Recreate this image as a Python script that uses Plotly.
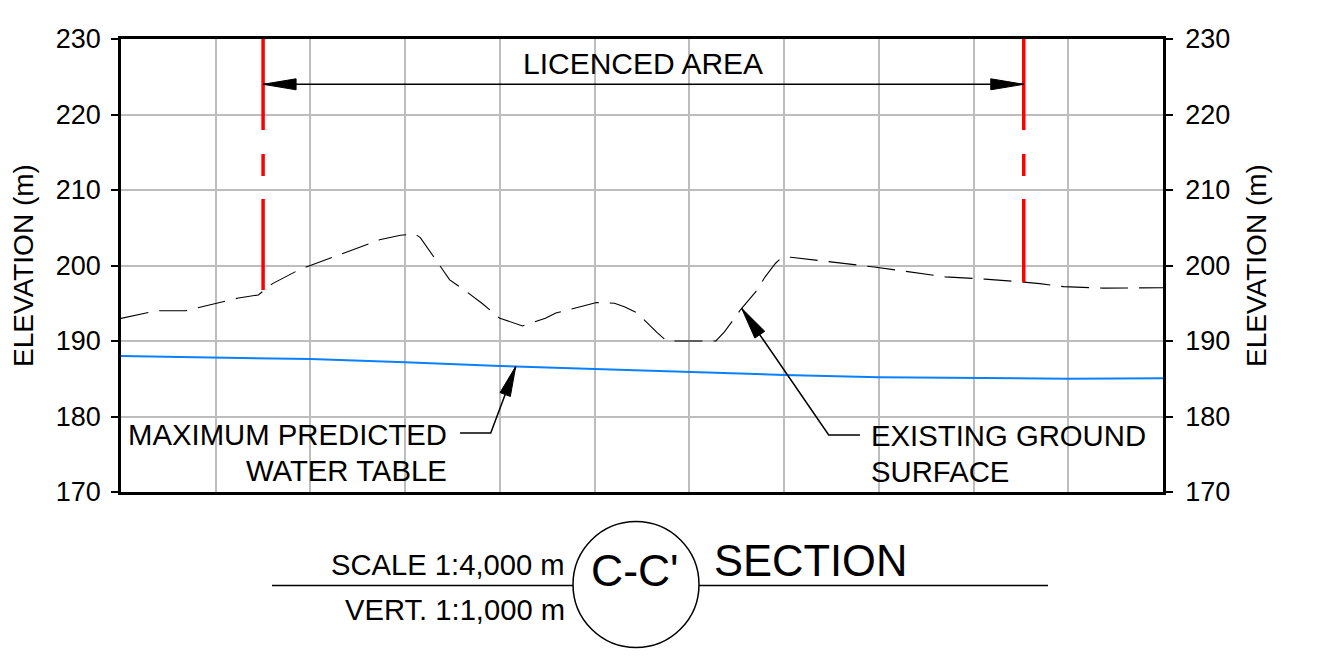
import numpy as np
import plotly.graph_objects as go

# ---------------- data ----------------
distance = [0, 37, 68, 124, 145, 150, 160, 189, 231, 273, 295, 310, 316, 333, 347,
            365, 381, 400, 424, 448, 459, 502, 521, 532, 545, 566, 576, 628, 637,
            655, 670, 680, 691, 697, 707, 741, 795, 870, 912, 953, 970, 995, 1037, 1100]
ground = [193.0, 194.0, 194.0, 195.7, 196.1, 196.6, 197.6, 199.5, 201.4, 203.4, 204.0,
          204.2, 203.7, 200.7, 198.1, 196.5, 195.0, 193.0, 192.0, 193.0, 193.7, 195.1,
          195.0, 194.5, 193.7, 191.1, 190.0, 190.0, 191.2, 194.3, 196.5, 198.5, 200.3,
          201.0, 201.1, 200.6, 199.8, 198.5, 198.2, 197.8, 197.6, 197.2, 197.0, 197.05]
wt_distance = [0, 100, 200, 300, 400, 500, 600, 700, 800, 900, 1000, 1100]
water_table = [188.0, 187.8, 187.6, 187.2, 186.7, 186.3, 185.9, 185.5, 185.2, 185.05, 185.0, 185.05]
boundary_x = [150, 953]
licence_dim_y = 224
y_ticks = [170, 180, 190, 200, 210, 220, 230]
x_grid = 100

X_RANGE = [0, 1100]
Y_RANGE = [170, 230]

# ---------------- layout geometry (screen pixels) ----------------
PAGE_OFF = 8                     # default body margin of the html page
W, H = 1344 - 2 * PAGE_OFF, 672 - 2 * PAGE_OFF
SL, ST, PW, PH = 121, 39, 1042, 453       # plot area on screen
L, T = SL - PAGE_OFF, ST - PAGE_OFF       # plot area in figure
PXX = PW / (X_RANGE[1] - X_RANGE[0])
PXY = PH / (Y_RANGE[1] - Y_RANGE[0])
FONT = "Liberation Sans, Arial, sans-serif"
LBL = 29.3


def px2paper(px, py):
    return (px - SL) / PW, (ST + PH - py) / PH


def head(tx, ty, ux, uy, length=32, width=11):
    """filled arrowhead path in data coords; (ux, uy) pixel-space direction (y down)"""
    n = np.hypot(ux, uy)
    ux, uy = ux / n, uy / n
    bx, by = -length * ux, -length * uy
    nx, ny = -uy, ux
    pts = [(0, 0), (bx + nx * width / 2, by + ny * width / 2), (bx - nx * width / 2, by - ny * width / 2)]
    d = ["%s %f,%f" % ("M" if i == 0 else "L", tx + p[0] / PXX, ty - p[1] / PXY) for i, p in enumerate(pts)]
    return " ".join(d) + " Z"


def seg_dir(x0, y0, x1, y1):
    return (x1 - x0) * PXX, -(y1 - y0) * PXY


fig = go.Figure()

# ground surface
fig.add_trace(go.Scatter(x=distance, y=ground, mode="lines",
                         line=dict(color="black", width=1.1, dash="28px,11px"),
                         hoverinfo="skip", showlegend=False))
# water table
fig.add_trace(go.Scatter(x=wt_distance, y=water_table, mode="lines", yaxis="y2",
                         line=dict(color="#0a80ff", width=2),
                         hoverinfo="skip", showlegend=False))
# licence boundaries
for bx in boundary_x:
    gy = float(np.interp(bx, distance, ground))
    fig.add_trace(go.Scatter(x=[bx, bx], y=[Y_RANGE[1], gy], mode="lines",
                             line=dict(color="#ff0000", width=3.5, dash="91px,24px,22px,23px"),
                             hoverinfo="skip", showlegend=False))

shapes = []
annotations = []
blk = dict(color="black", width=1.5)

# licenced area dimension line
shapes.append(dict(type="line", xref="x", yref="y", x0=boundary_x[0], x1=boundary_x[1],
                   y0=licence_dim_y, y1=licence_dim_y, line=blk))
shapes.append(dict(type="path", xref="x", yref="y", path=head(boundary_x[0], licence_dim_y, -1, 0, 33, 11),
                   fillcolor="black", line=dict(color="black", width=1)))
shapes.append(dict(type="path", xref="x", yref="y", path=head(boundary_x[1], licence_dim_y, 1, 0, 33, 11),
                   fillcolor="black", line=dict(color="black", width=1)))
annotations.append(dict(x=551, y=226.7, xref="x", yref="y", text="LICENCED AREA", showarrow=False,
                        xanchor="center", yanchor="middle", font=dict(size=30, color="black", family=FONT)))

# water table leader
wt_tip_x = 416.7
wt_tip_y = float(np.interp(wt_tip_x, wt_distance, water_table))
wt_corner = (390.3, 177.8)
wt_end = (357.9, 177.8)
shapes.append(dict(type="path", xref="x", yref="y",
                   path="M %f,%f L %f,%f L %f,%f" % (wt_end[0], wt_end[1], wt_corner[0], wt_corner[1], wt_tip_x, wt_tip_y),
                   line=blk))
ux, uy = seg_dir(wt_corner[0], wt_corner[1], wt_tip_x, wt_tip_y)
shapes.append(dict(type="path", xref="x", yref="y", path=head(wt_tip_x, wt_tip_y, ux, uy, 30, 11),
                   fillcolor="black", line=dict(color="black", width=1)))
annotations.append(dict(x=346, y=177.6, xref="x", yref="y", text="MAXIMUM PREDICTED", showarrow=False,
                        xanchor="right", yanchor="middle", font=dict(size=LBL, color="black", family=FONT)))
annotations.append(dict(x=346, y=172.85, xref="x", yref="y", text="WATER TABLE", showarrow=False,
                        xanchor="right", yanchor="middle", font=dict(size=LBL, color="black", family=FONT)))

# ground leader
g_tip_x = 655.2
g_tip_y = float(np.interp(g_tip_x, distance, ground))
g_corner = (747.1, 177.55)
g_end = (780.1, 177.55)
shapes.append(dict(type="path", xref="x", yref="y",
                   path="M %f,%f L %f,%f L %f,%f" % (g_end[0], g_end[1], g_corner[0], g_corner[1], g_tip_x, g_tip_y),
                   line=blk))
ux, uy = seg_dir(g_corner[0], g_corner[1], g_tip_x, g_tip_y)
shapes.append(dict(type="path", xref="x", yref="y", path=head(g_tip_x, g_tip_y, ux, uy, 32, 12),
                   fillcolor="black", line=dict(color="black", width=1)))
annotations.append(dict(x=789.8, y=177.5, xref="x", yref="y", text="EXISTING GROUND", showarrow=False,
                        xanchor="left", yanchor="middle", font=dict(size=LBL, color="black", family=FONT)))
annotations.append(dict(x=789.8, y=172.7, xref="x", yref="y", text="SURFACE", showarrow=False,
                        xanchor="left", yanchor="middle", font=dict(size=LBL, color="black", family=FONT)))

# title block (paper coords)
lx0, ly = px2paper(272, 585.5)
lx1, _ = px2paper(1048, 585.5)
shapes.append(dict(type="line", xref="paper", yref="paper", x0=lx0, x1=lx1, y0=ly, y1=ly, line=blk))
cx0, cy0 = px2paper(573, 647.5)
cx1, cy1 = px2paper(699, 521.5)
shapes.append(dict(type="circle", xref="paper", yref="paper", x0=cx0, x1=cx1, y0=cy0, y1=cy1,
                   fillcolor="white", line=blk))


def ptext(px, py, text, size, anchor):
    x, y = px2paper(px, py)
    annotations.append(dict(x=x, y=y, xref="paper", yref="paper", text=text, showarrow=False,
                            xanchor=anchor, yanchor="middle",
                            font=dict(size=size, color="black", family=FONT)))


ptext(567, 565, "SCALE 1:4,000 m", 29.2, "right")
ptext(567, 610, "VERT. 1:1,000 m", 29.2, "right")
ptext(635, 570, "C-C'", 44.5, "center")
ptext(712, 560.5, "SECTION", 43.5, "left")


def yaxis_cfg(side, standoff_lbl, standoff_title):
    return dict(range=Y_RANGE, tickmode="array", tickvals=y_ticks, ticktext=[str(v) for v in y_ticks],
                ticks="outside", ticklen=7, tickwidth=1.5, tickcolor="black",
                tickfont=dict(size=27, color="black", family=FONT),
                showline=True, linecolor="black", linewidth=2.5, zeroline=False, side=side,
                title=dict(text="ELEVATION (m)", font=dict(size=28, color="black", family=FONT),
                           standoff=standoff_title),
                ticklabelstandoff=standoff_lbl)


fig.update_layout(
    width=W, height=H,
    margin=dict(l=L, r=W - L - PW, t=T, b=H - T - PH, autoexpand=False),
    paper_bgcolor="white", plot_bgcolor="white",
    showlegend=False,
    xaxis=dict(range=X_RANGE, tick0=0, dtick=x_grid, showticklabels=False, ticks="",
               showgrid=True, gridcolor="#bdbdbd", gridwidth=1.5,
               showline=True, mirror=True, linecolor="black", linewidth=2.5, zeroline=False),
    yaxis=dict(showgrid=True, gridcolor="#bdbdbd", gridwidth=1.5, **yaxis_cfg("left", 5, 23)),
    yaxis2=dict(showgrid=False, overlaying="y", **yaxis_cfg("right", 7, 18)),
    shapes=shapes,
    annotations=annotations,
)

fig.write_html("out.html")
